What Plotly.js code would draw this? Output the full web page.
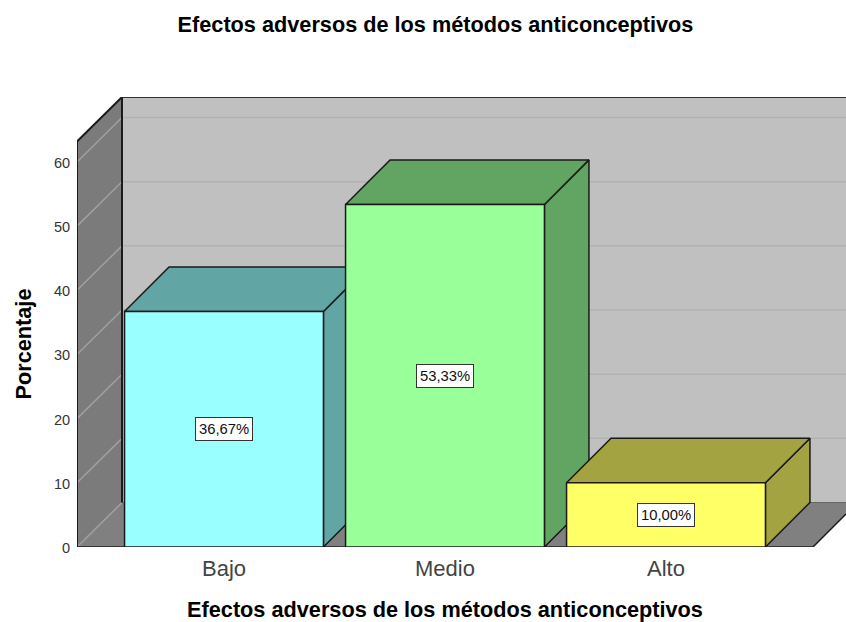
<!DOCTYPE html>
<html>
<head>
<meta charset="utf-8">
<script src="https://cdn.plot.ly/plotly-3.0.1.min.js"></script>
<style>html,body{margin:0;padding:0;background:#fff;overflow:hidden}#chart{width:846px;height:622px}</style>
</head>
<body>
<div id="chart"></div>
<script>
// Data
var categories = ['Bajo', 'Medio', 'Alto'];
var values = [36.67, 53.33, 10.00];
var valueLabels = ['36,67%', '53,33%', '10,00%'];
var positions = [0, 1, 2];
var yTicks = [0, 10, 20, 30, 40, 50, 60];
var frontColors = ['#99ffff', '#99ff99', '#ffff66'];
var shadeColors = ['#62a5a5', '#62a562', '#a3a342'];
var titleText = 'Efectos adversos de los métodos anticonceptivos';
var yTitleText = 'Porcentaje';

// Oblique projection, in axis units
var depthX = 44.5 / 221, depthY = 44.5 / 6.42;
var halfBar = 0.45;
var yMax = 63.2;
var xLeft = -147 / 221, xRight = 589 / 221, xFar = 622 / 221;

var traces = [];
function poly(xs, ys, fill, lineColor, lineWidth, xa, ya) {
  traces.push({
    type: 'scatter', mode: 'lines', x: xs.concat(xs[0]), y: ys.concat(ys[0]),
    xaxis: xa, yaxis: ya,
    fill: 'toself', fillcolor: fill,
    line: {color: lineColor, width: lineWidth},
    cliponaxis: false, hoverinfo: 'skip', showlegend: false
  });
}
function seg(xs, ys, color, width) {
  traces.push({
    type: 'scatter', mode: 'lines', x: xs, y: ys, xaxis: 'x', yaxis: 'y',
    line: {color: color, width: width},
    cliponaxis: false, hoverinfo: 'skip', showlegend: false
  });
}

var bx = xLeft + 45 / 221;
// back wall, left wall, floor (lower subplot, full extent)
poly([bx, xFar, xFar, bx], [depthY, depthY, yMax + depthY, yMax + depthY], '#c0c0c0', 'rgba(0,0,0,0)', 0, 'x', 'y');
poly([xLeft, bx, bx, xLeft], [0, depthY, yMax + depthY, yMax], '#7b7b7b', 'rgba(0,0,0,0)', 0, 'x', 'y');
var floorEnd = depthY * (xFar - xRight) / depthX;
poly([xLeft, bx, xFar, xFar, xRight], [0, depthY, depthY, floorEnd, 0], '#808080', 'rgba(0,0,0,0)', 0, 'x', 'y');
// gridlines
yTicks.forEach(function (t) {
  if (t > 0) seg([bx, xFar], [t + depthY, t + depthY], '#b2b2b2', 1.5);
  seg([xLeft, bx], [t, t + depthY], '#a0a0a0', 1.5);
});
// frame
seg([bx, xFar], [yMax + depthY, yMax + depthY], '#333333', 2);
seg([bx, xFar], [depthY, depthY], '#666666', 1);
seg([xLeft, xLeft, bx, bx], [0, yMax, yMax + depthY, depthY], '#1c1c1c', 2);
seg([xLeft, xRight, xFar], [0, 0, floorEnd], '#1c1c1c', 1.5);

// bars (upper subplot, carries ticks and axis titles)
positions.forEach(function (p, i) {
  var l = p - halfBar, r = p + halfBar, v = values[i];
  poly([r, r + depthX, r + depthX, r], [0, depthY, v + depthY, v], shadeColors[i], '#1a1a1a', 1.5, 'x2', 'y2');
  poly([l, l + depthX, r + depthX, r], [v, v + depthY, v + depthY, v], shadeColors[i], '#1a1a1a', 1.5, 'x2', 'y2');
  poly([l, r, r, l], [0, 0, v, v], frontColors[i], '#1a1a1a', 1.5, 'x2', 'y2');
});

var annotations = positions.map(function (p, i) {
  return {
    x: p, y: values[i] / 2, xref: 'x2', yref: 'y2', text: valueLabels[i], showarrow: false,
    font: {family: 'Liberation Sans, Arial, sans-serif', size: 14.8, color: '#111111'},
    bgcolor: '#ffffff', bordercolor: '#333333', borderwidth: 1, borderpad: 3
  };
});

var layout = {
  width: 846, height: 622, autosize: false,
  paper_bgcolor: '#ffffff', plot_bgcolor: 'rgba(0,0,0,0)',
  margin: {l: 77, r: 0, t: 97, b: 75, pad: 0},
  showlegend: false,
  font: {family: 'Liberation Sans, Arial, sans-serif', color: '#222222'},
  title: {
    text: '<b>' + titleText + '</b>', x: 435.5 / 846, xref: 'container', xanchor: 'center',
    y: 1 - 24 / 622, yref: 'container', yanchor: 'middle',
    font: {size: 21.7, color: '#000000'}, automargin: false
  },
  xaxis: {
    domain: [0, 1], range: [xLeft, xFar], visible: false, fixedrange: true, anchor: 'y'
  },
  yaxis: {
    domain: [0, 1], range: [0, yMax + depthY], visible: false, fixedrange: true, anchor: 'x'
  },
  xaxis2: {
    domain: [0, 736 / 769], anchor: 'y2',
    range: [xLeft, xRight], tickmode: 'array', tickvals: positions, ticktext: categories,
    showgrid: false, zeroline: false, showline: false, fixedrange: true,
    ticks: 'outside', ticklen: 2, tickcolor: 'rgba(0,0,0,0)',
    tickfont: {size: 22, color: '#444444'},
    title: {text: '<b>' + titleText + '</b>', standoff: 26, font: {size: 21.7, color: '#000000'}},
    automargin: false
  },
  yaxis2: {
    domain: [0, 406 / 450], anchor: 'x2',
    range: [0, yMax], tickmode: 'array', tickvals: yTicks, ticktext: yTicks.map(String),
    showgrid: false, zeroline: false, showline: false, fixedrange: true,
    ticks: 'outside', ticklen: 3, tickcolor: 'rgba(0,0,0,0)',
    tickfont: {size: 14.5, color: '#333333'}, ticklabelshift: 1,
    title: {text: '<b>' + yTitleText + '</b>', standoff: 16, font: {size: 21.7, color: '#000000'}},
    automargin: false
  },
  annotations: annotations
};

Plotly.newPlot('chart', traces, layout, {displayModeBar: false, responsive: false});
</script>
</body>
</html>
